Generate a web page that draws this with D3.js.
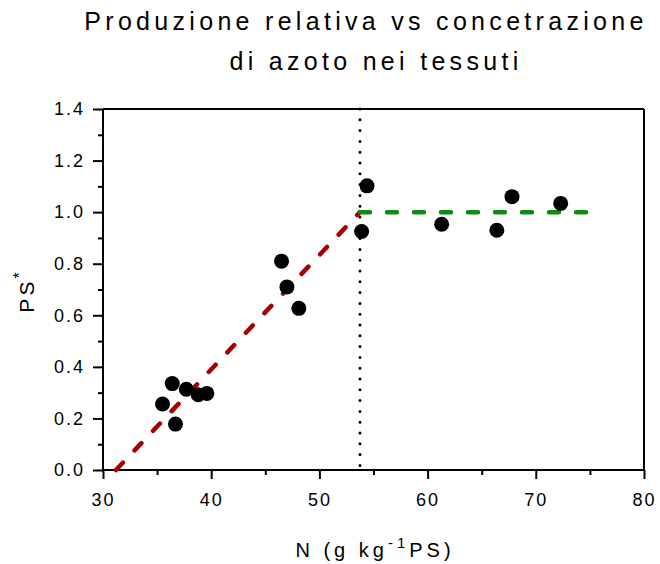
<!DOCTYPE html>
<html><head><meta charset="utf-8">
<script src="https://cdn.jsdelivr.net/npm/d3@7"></script>
<style>body{margin:0;background:#fff}svg{display:block}text{font-family:"Liberation Sans",Arial,sans-serif;fill:#000}</style>
</head><body><svg id="c" width="660" height="564"></svg>
<script>
const nValues = [35.5, 36.4, 36.7, 37.7, 38.8, 39.6, 46.5, 47.0, 48.1, 53.9, 54.4, 61.3, 66.4, 67.8, 72.3];
const psValues = [0.256, 0.335, 0.178, 0.313, 0.292, 0.297, 0.81, 0.71, 0.627, 0.925, 1.102, 0.953, 0.93, 1.06, 1.034];
const redLineX = [31.2, 53.75];
const redLineY = [0.0, 1.0];
const greenLineX = [53.75, 75];
const greenLineY = [1.0, 1.0];
const breakX = 53.75;
const xTicks = [30, 40, 50, 60, 70, 80];
const yTicks = [0, 0.2, 0.4, 0.6, 0.8, 1.0, 1.2, 1.4];
const xMinor = [35, 45, 55, 65, 75];
const yMinor = [0.1, 0.3, 0.5, 0.7, 0.9, 1.1, 1.3];

const svg = d3.select("#c");
const L = 103, R = 644, T = 109, B = 470;
const x = d3.scaleLinear().domain([30, 80]).range([L, R]);
const y = d3.scaleLinear().domain([0, 1.4]).range([B, T]);

// frame top & right
svg.append("line").attr("x1", L).attr("x2", R).attr("y1", T).attr("y2", T).attr("stroke", "#000").attr("stroke-width", 2);
svg.append("line").attr("x1", R).attr("x2", R).attr("y1", T).attr("y2", B).attr("stroke", "#000").attr("stroke-width", 2);

// x axis
const xa = svg.append("g").attr("transform", `translate(0,${B})`)
  .call(d3.axisBottom(x).tickValues(xTicks).tickSize(9).tickPadding(14).tickFormat(d3.format("d")));
svg.append("g").attr("transform", `translate(0,${B})`)
  .call(d3.axisBottom(x).tickValues(xMinor).tickSize(5).tickFormat(""))
  .call(g => g.select(".domain").remove());
// y axis
const ya = svg.append("g").attr("transform", `translate(${L},0)`)
  .call(d3.axisLeft(y).tickValues(yTicks).tickSize(10).tickPadding(8).tickFormat(d3.format(".1f")));
svg.append("g").attr("transform", `translate(${L},0)`)
  .call(d3.axisLeft(y).tickValues(yMinor).tickSize(5).tickFormat(""))
  .call(g => g.select(".domain").remove());

svg.selectAll(".domain").attr("stroke-width", 2);
svg.selectAll(".tick line").attr("stroke-width", 2);
xa.select(".domain").attr("d", `M${L},0H${R}`);
ya.select(".domain").attr("d", `M0,${B}V${T}`);
svg.selectAll(".tick text").attr("font-size", 18).attr("letter-spacing", "2px")
  .attr("font-family", '"Liberation Sans",Arial,sans-serif').attr("fill", "#000");

// dotted vertical line
svg.append("line").attr("x1", x(breakX)).attr("x2", x(breakX)).attr("y1", T).attr("y2", B)
  .attr("stroke", "#000").attr("stroke-width", 3).attr("stroke-linecap", "round").attr("stroke-dasharray", "0,10.8");

// red line
const line = d3.line().x(d => x(d[0])).y(d => y(d[1]));
svg.append("path").attr("d", line(d3.zip(redLineX, redLineY))).attr("fill", "none")
  .attr("stroke", "#a50000").attr("stroke-width", 4.5).attr("stroke-linecap", "round").attr("stroke-dasharray", "10,17");
svg.append("path").attr("d", line(d3.zip(greenLineX, greenLineY))).attr("fill", "none")
  .attr("stroke", "#118a11").attr("stroke-width", 4.5).attr("stroke-linecap", "round").attr("stroke-dasharray", "10,17");

// points
svg.append("g").selectAll("circle").data(d3.zip(nValues, psValues)).join("circle")
  .attr("cx", d => x(d[0])).attr("cy", d => y(d[1])).attr("r", 7.5).attr("fill", "#000");

// title
svg.append("text").attr("x", 366).attr("y", 30).attr("text-anchor", "middle").attr("font-size", 25).attr("letter-spacing", "4.3px")
  .text("Produzione relativa vs concetrazione");
svg.append("text").attr("x", 376).attr("y", 70).attr("text-anchor", "middle").attr("font-size", 25).attr("letter-spacing", "4.3px")
  .text("di azoto nei tessuti");

// x label
const xl = svg.append("text").attr("x", 375).attr("y", 557).attr("text-anchor", "middle").attr("font-size", 20).attr("letter-spacing", "4px");
xl.append("tspan").text("N (g kg");
xl.append("tspan").attr("dy", -9).attr("font-size", 15).text("-1");
xl.append("tspan").attr("dy", 9).text("PS)");

// y label
const yl = svg.append("text").attr("transform", "translate(34,291) rotate(-90)").attr("text-anchor", "middle").attr("font-size", 21).attr("letter-spacing", "3px");
yl.append("tspan").text("PS");
yl.append("tspan").attr("dy", -9).attr("font-size", 16).text("*");
</script></body></html>
